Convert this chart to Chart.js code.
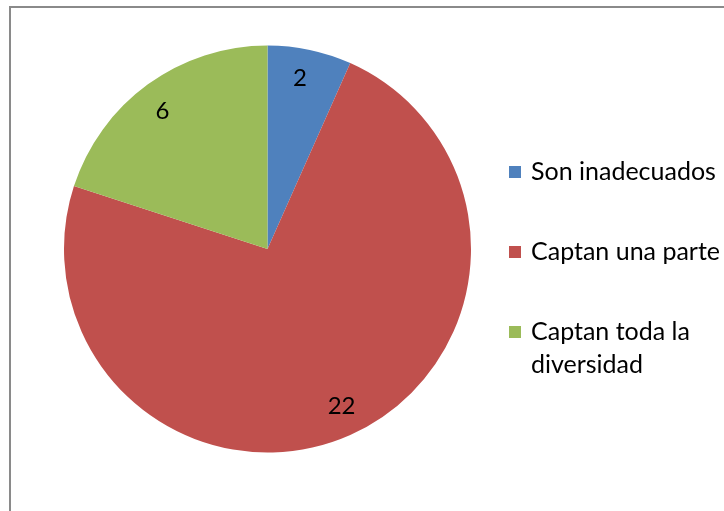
<!DOCTYPE html>
<html><head><meta charset="utf-8">
<script src="https://cdn.jsdelivr.net/npm/chart.js@4/dist/chart.umd.min.js"></script>
<style>
html,body{margin:0;padding:0;background:#fff;}
#wrap{position:relative;width:724px;height:511px;}
#frame{position:absolute;left:9px;top:6px;right:0;bottom:0;border-top:2px solid #8a8a8a;border-left:2px solid #8a8a8a;box-sizing:border-box;pointer-events:none;}
canvas{position:absolute;left:0;top:0;}
</style></head>
<body><div id="wrap"><canvas id="c" width="724" height="511"></canvas><div id="frame"></div></div>
<script>
const categories = ["Son inadecuados", "Captan una parte", "Captan toda la diversidad"];
const legendLines = [["Son inadecuados"], ["Captan una parte"], ["Captan toda la", "diversidad"]];
const values = [2, 22, 6];
const colors = ["#4F81BD", "#C0504D", "#9BBB59"];
const FONT = "Lato, 'Open Sans', sans-serif";

const labelPlugin = {
  id: 'sliceLabels',
  afterDatasetsDraw(chart) {
    const ctx = chart.ctx;
    const meta = chart.getDatasetMeta(0);
    ctx.save();
    ctx.font = "24px " + FONT;
    ctx.fillStyle = "#000";
    ctx.textAlign = "center";
    ctx.textBaseline = "middle";
    meta.data.forEach((arc, i) => {
      const p = arc.getProps(['x','y','startAngle','endAngle','outerRadius'], true);
      const a = (p.startAngle + p.endAngle) / 2 - 0.022;
      const r = p.outerRadius * 0.853;
      ctx.fillText(String(chart.data.datasets[0].data[i]), p.x + Math.cos(a) * r, p.y + Math.sin(a) * r);
    });
    ctx.restore();
  }
};

const legendPlugin = {
  id: 'sideLegend',
  afterDraw(chart) {
    const ctx = chart.ctx;
    ctx.save();
    ctx.font = "25px " + FONT;
    ctx.textBaseline = "middle";
    ctx.textAlign = "left";
    const rowY = [172, 252, 332];
    legendLines.forEach((lines, i) => {
      ctx.fillStyle = colors[i];
      ctx.fillRect(509, rowY[i] - 6, 12, 12);
      ctx.fillStyle = "#000";
      lines.forEach((t, j) => ctx.fillText(t, 531, rowY[i] + j * 33));
    });
    ctx.restore();
  }
};

new Chart(document.getElementById('c'), {
  type: 'pie',
  data: {
    labels: categories,
    datasets: [{ data: values, backgroundColor: colors, borderWidth: 0 }]
  },
  options: {
    responsive: false,
    animation: false,
    layout: { padding: { left: 64, right: 253, top: 45, bottom: 58 } },
    plugins: { legend: { display: false }, tooltip: { enabled: false } }
  },
  plugins: [labelPlugin, legendPlugin]
});
</script></body></html>
